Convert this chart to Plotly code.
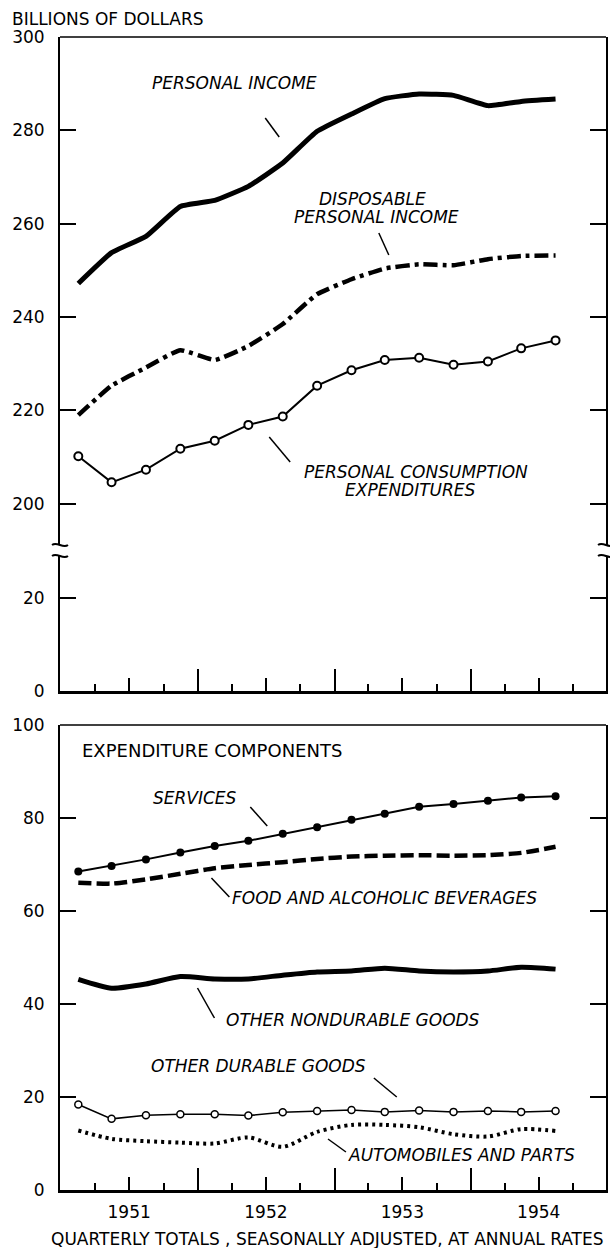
import plotly.graph_objects as go

# ---------------- data ----------------
quarters = ["1951-02-15", "1951-05-15", "1951-08-15", "1951-11-15",
            "1952-02-15", "1952-05-15", "1952-08-15", "1952-11-15",
            "1953-02-15", "1953-05-15", "1953-08-15", "1953-11-15",
            "1954-02-15", "1954-05-15", "1954-08-15"]

personal_income = [247.2, 253.8, 257.3, 263.7, 265.0, 268.0, 273.0, 279.8,
                   283.5, 286.8, 287.8, 287.5, 285.3, 286.2, 286.7]
disposable_income = [219.0, 225.3, 229.2, 232.9, 230.8, 233.8, 238.5, 244.9,
                     248.1, 250.4, 251.3, 251.1, 252.4, 253.1, 253.2]
consumption = [210.2, 204.6, 207.3, 211.8, 213.5, 216.9, 218.7, 225.3,
               228.6, 230.8, 231.3, 229.8, 230.5, 233.3, 235.0]

services = [68.5, 69.7, 71.1, 72.6, 74.0, 75.1, 76.6, 78.0,
            79.6, 80.9, 82.4, 83.0, 83.7, 84.4, 84.7]
food_beverages = [66.1, 65.9, 66.8, 68.0, 69.2, 69.9, 70.5, 71.2,
                  71.7, 71.9, 72.0, 71.9, 72.0, 72.5, 73.8]
other_nondurable = [45.3, 43.4, 44.3, 45.9, 45.4, 45.4, 46.2, 46.9,
                    47.1, 47.7, 47.1, 46.9, 47.1, 47.9, 47.5]
other_durable = [18.4, 15.3, 16.1, 16.3, 16.3, 16.0, 16.7, 17.0,
                 17.2, 16.8, 17.1, 16.8, 17.0, 16.8, 17.0]
automobiles = [12.8, 11.0, 10.5, 10.2, 10.0, 11.3, 9.3, 12.5,
               14.0, 14.0, 13.5, 12.0, 11.5, 13.1, 12.7]

year_ticks = ["1952-01-01", "1953-01-01", "1954-01-01"]
midyear_ticks = ["1951-07-01", "1952-07-01", "1953-07-01", "1954-07-01"]
year_labels = ["1951", "1952", "1953", "1954"]
quarter_ticks = ["1951-04-01", "1951-10-01", "1952-04-01", "1952-10-01",
                 "1953-04-01", "1953-10-01", "1954-04-01", "1954-10-01"]
upper_ticks = [200, 220, 240, 260, 280, 300]
lower_ticks = [0, 20]
bottom_ticks = [0, 20, 40, 60, 80, 100]

# ---------------- geometry helpers ----------------
W, H = 610, 1248
L, R, T, B = 60, 2, 37, 58
PW, PH = W - L - R, H - T - B


def P(x, y):
    return (x - L) / PW, (H - B - y) / PH


_, top_bottom = P(0, 691)
_, brk = P(0, 550)
_, bot_top = P(0, 725)

XR = ["1950-12-28", "1954-12-28"]
FONT = "DejaVu Sans"

fig = go.Figure()

# ---------------- top panel traces ----------------
fig.add_trace(go.Scatter(x=quarters, y=personal_income, mode="lines",
                         line=dict(color="black", width=5, shape="spline", smoothing=0.4),
                         xaxis="x", yaxis="y", showlegend=False))
fig.add_trace(go.Scatter(x=quarters, y=disposable_income, mode="lines",
                         line=dict(color="black", width=4.5, dash="14px,5px,4px,5px",
                                   shape="spline", smoothing=0.4),
                         xaxis="x", yaxis="y", showlegend=False))
fig.add_trace(go.Scatter(x=quarters, y=consumption, mode="lines+markers",
                         line=dict(color="black", width=2),
                         marker=dict(symbol="circle", size=8, color="white",
                                     line=dict(color="black", width=2)),
                         xaxis="x", yaxis="y", showlegend=False))
# non-drawing traces that register the lower (0-30) segment of the broken axis
# and the overlay tick axes as subplots
fig.add_trace(go.Scatter(x=quarters, y=consumption, mode="none", hoverinfo="skip",
                         xaxis="x", yaxis="y2", showlegend=False))
fig.add_trace(go.Scatter(x=quarters, y=consumption, mode="none", hoverinfo="skip",
                         xaxis="x3", yaxis="y2", showlegend=False))

# ---------------- bottom panel traces ----------------
fig.add_trace(go.Scatter(x=quarters, y=services, mode="lines+markers",
                         line=dict(color="black", width=2),
                         marker=dict(symbol="circle", size=8, color="black"),
                         xaxis="x2", yaxis="y3", showlegend=False))
fig.add_trace(go.Scatter(x=quarters, y=food_beverages, mode="lines",
                         line=dict(color="black", width=4.5, dash="13px,5px",
                                   shape="spline", smoothing=0.6),
                         xaxis="x2", yaxis="y3", showlegend=False))
fig.add_trace(go.Scatter(x=quarters, y=other_nondurable, mode="lines",
                         line=dict(color="black", width=5, shape="spline", smoothing=0.6),
                         xaxis="x2", yaxis="y3", showlegend=False))
fig.add_trace(go.Scatter(x=quarters, y=other_durable, mode="lines+markers",
                         line=dict(color="black", width=1.5),
                         marker=dict(symbol="circle", size=7, color="white",
                                     line=dict(color="black", width=1.5)),
                         xaxis="x2", yaxis="y3", showlegend=False))
fig.add_trace(go.Scatter(x=quarters, y=automobiles, mode="lines",
                         line=dict(color="black", width=4, dash="3px,4px",
                                   shape="spline", smoothing=0.8),
                         xaxis="x2", yaxis="y3", showlegend=False))
fig.add_trace(go.Scatter(x=quarters, y=services, mode="none", hoverinfo="skip",
                         xaxis="x4", yaxis="y3", showlegend=False))

# ---------------- axes ----------------
tickfont = dict(family=FONT, size=17, color="black")


def base_x(anchor, **kw):
    d = dict(type="date", range=XR, domain=[0, 1], anchor=anchor,
             showgrid=False, zeroline=False, ticks="inside",
             tickcolor="black", tickwidth=2, tickfont=tickfont)
    d.update(kw)
    return d


def base_y(domain, rng, tickvals, anchor, **kw):
    d = dict(domain=domain, range=rng, tickvals=tickvals, anchor=anchor,
             showgrid=False, zeroline=False, ticks="inside", ticklen=16,
             tickwidth=2, tickcolor="black", showline=True, linewidth=2,
             linecolor="black", mirror="ticks", tickfont=tickfont,
             ticklabelstandoff=10)
    d.update(kw)
    return d


fig.update_layout(
    xaxis=base_x("y2", tickvals=year_ticks, ticklen=22, showticklabels=False,
                 showline=True, linewidth=3, linecolor="black",
                 minor=dict(tickvals=quarter_ticks, ticks="inside", ticklen=7,
                            tickwidth=1.5, tickcolor="black", showgrid=False)),
    xaxis3=base_x("y2", overlaying="x", tickvals=midyear_ticks, ticklen=13,
                  showticklabels=False, showline=False),
    xaxis2=base_x("y3", tickvals=year_ticks, ticklen=22, showticklabels=False,
                  showline=True, linewidth=3, linecolor="black",
                  minor=dict(tickvals=quarter_ticks, ticks="inside", ticklen=7,
                             tickwidth=1.5, tickcolor="black", showgrid=False)),
    xaxis4=base_x("y3", overlaying="x2", tickvals=midyear_ticks, ticktext=year_labels,
                  ticklen=13, showticklabels=True, showline=False,
                  ticklabelstandoff=10),
    yaxis=base_y([brk, 1], [190.1, 300], upper_ticks, "x"),
    yaxis2=base_y([top_bottom, brk], [0, 30.3], lower_ticks, "x"),
    yaxis3=base_y([0, bot_top], [0, 100], bottom_ticks, "x2"),
)

# ---------------- frame tops ----------------
shapes = []
for yy in (1.0, bot_top):
    shapes.append(dict(type="line", xref="paper", yref="paper", x0=0, x1=1,
                       y0=yy, y1=yy, line=dict(color="black", width=1.5)))

# leader lines (pixel positions)
leaders = [((266, 118), (280, 137)),
           ((380, 233), (390, 255)),
           ((270, 437), (291, 462)),
           ((251, 807), (268, 826)),
           ((212, 878), (230, 897)),
           ((198, 988), (215, 1018)),
           ((375, 1078), (398, 1097)),
           ((329, 1139), (347, 1152))]
for (a, b) in leaders:
    x0, y0 = P(*a)
    x1, y1 = P(*b)
    shapes.append(dict(type="line", xref="paper", yref="paper", x0=x0, y0=y0,
                       x1=x1, y1=y1, line=dict(color="black", width=1.5)))

# axis break marks: white gap in the axis line plus two wavy strokes
for cx in (60, 608):
    gx0, gy0 = P(cx - 4, 545)
    gx1, gy1 = P(cx + 4, 556)
    shapes.append(dict(type="rect", xref="paper", yref="paper",
                       x0=gx0, x1=gx1, y0=gy0, y1=gy1,
                       fillcolor="white", line=dict(width=0)))
    for wy in (545, 556):
        a = P(cx - 8, wy)
        c1 = P(cx - 3, wy - 4)
        c2 = P(cx + 3, wy + 4)
        b = P(cx + 8, wy)
        path = (f"M {a[0]},{a[1]} C {c1[0]},{c1[1]} {c2[0]},{c2[1]} {b[0]},{b[1]}")
        shapes.append(dict(type="path", xref="paper", yref="paper", path=path,
                           line=dict(color="black", width=2)))
fig.update_layout(shapes=shapes)

# ---------------- text ----------------
ann = []


def add_text(text, x, y, size=17, xanchor="center", italic=True):
    px, py = P(x, y)
    t = f"<i>{text}</i>" if italic else text
    ann.append(dict(text=t, x=px, y=py, xref="paper", yref="paper",
                    xanchor=xanchor, yanchor="middle", showarrow=False,
                    font=dict(family=FONT, size=size, color="black")))


add_text("BILLIONS OF DOLLARS", 10, 19, size=17, xanchor="left", italic=False)
add_text("PERSONAL INCOME", 235, 83)
add_text("DISPOSABLE", 374, 199)
add_text("PERSONAL INCOME", 378, 217)
add_text("PERSONAL CONSUMPTION", 417, 472)
add_text("EXPENDITURES", 412, 490)
add_text("EXPENDITURE COMPONENTS", 80, 750, size=18, xanchor="left", italic=False)
add_text("SERVICES", 195, 798)
add_text("FOOD AND ALCOHOLIC BEVERAGES", 231, 898, xanchor="left")
add_text("OTHER NONDURABLE GOODS", 225, 1020, xanchor="left")
add_text("OTHER DURABLE GOODS", 259, 1066)
add_text("AUTOMOBILES AND PARTS", 347, 1155, xanchor="left")
add_text("QUARTERLY TOTALS , SEASONALLY ADJUSTED, AT ANNUAL RATES", 328, 1239,
         size=17, italic=False)

fig.update_layout(annotations=ann, width=W, height=H, autosize=False,
                  margin=dict(l=L, r=R, t=T, b=B),
                  paper_bgcolor="white", plot_bgcolor="white")

fig.write_html("out.html", config={"displayModeBar": False},
               post_script="document.body.style.margin='0px';")
